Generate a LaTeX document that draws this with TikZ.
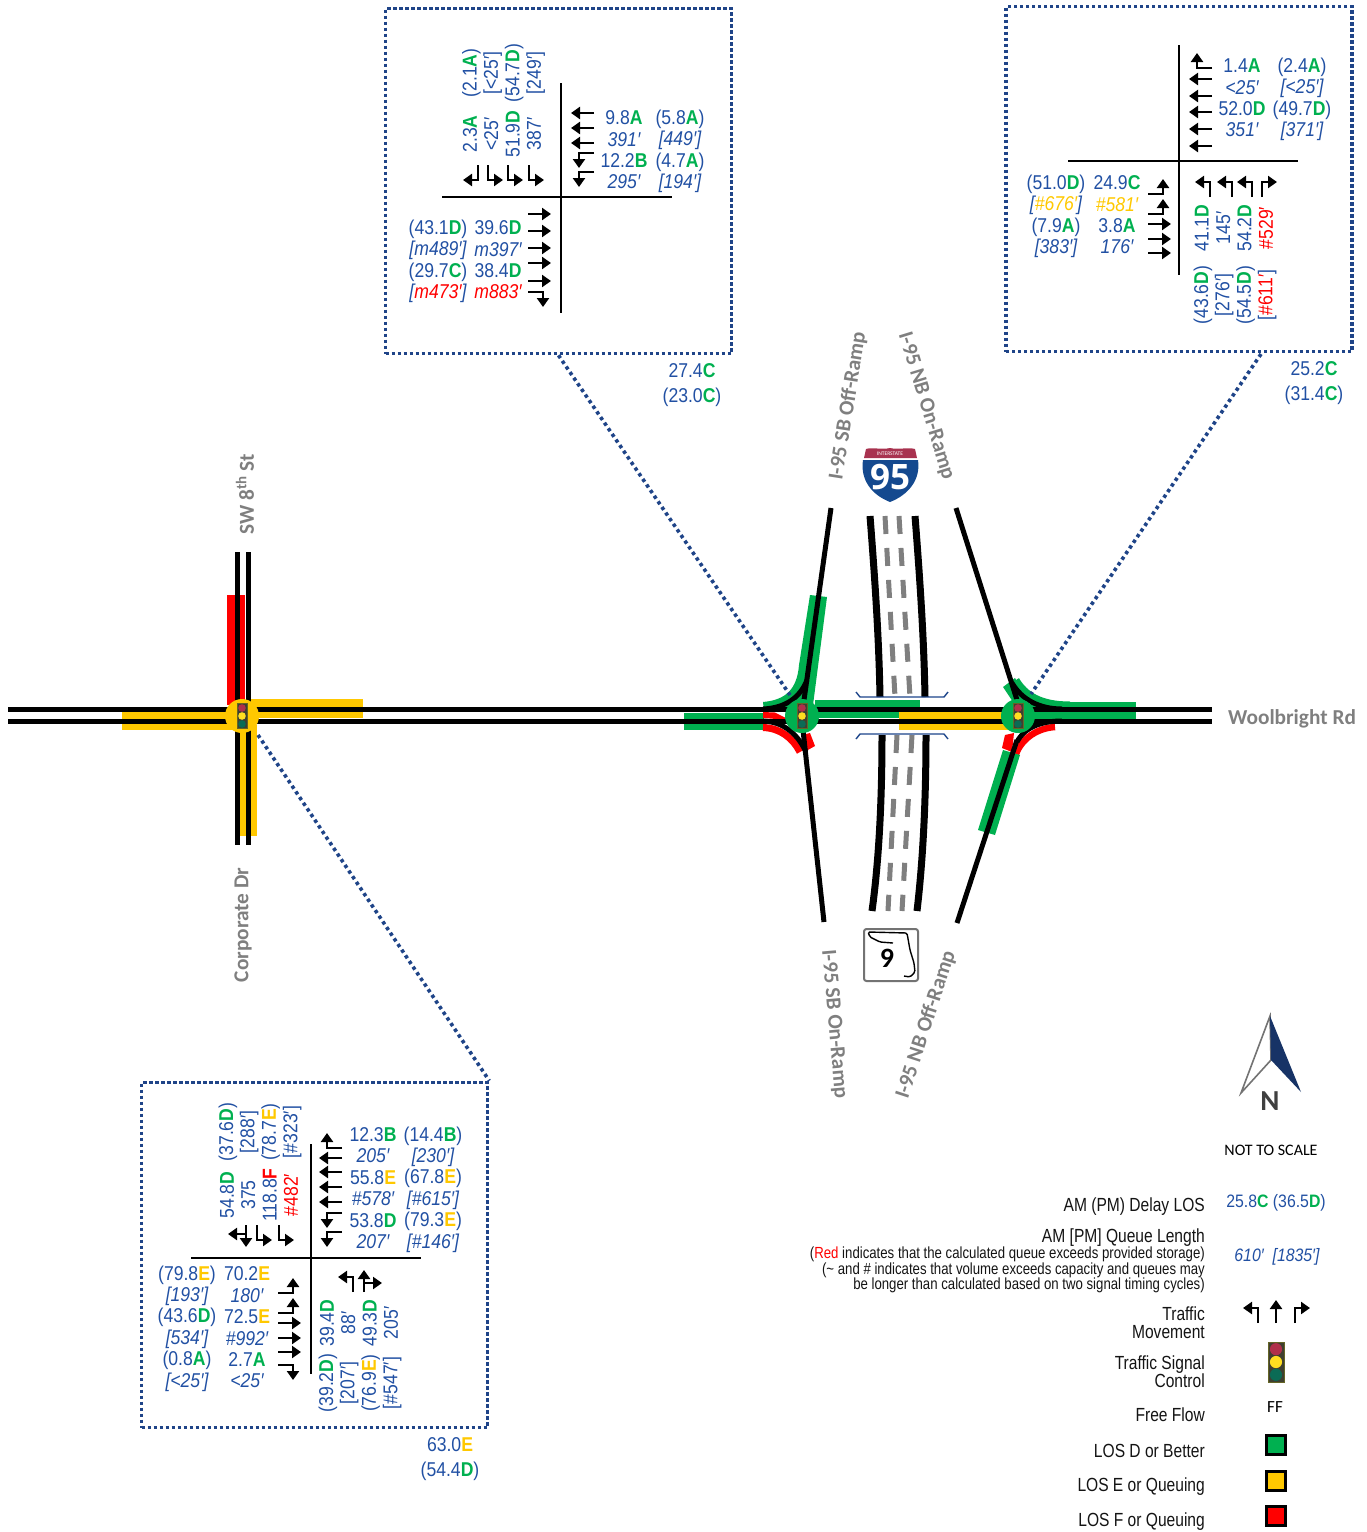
\documentclass[tikz,border=0pt]{standalone}
\usepackage{fontspec}
\usepackage{xcolor}
\usetikzlibrary{arrows.meta, positioning}
\setmainfont{Carlito}
\newfontfamily\numfont[FakeStretch=0.88]{Liberation Sans}
\newfontfamily\legfont[FakeStretch=0.82]{Liberation Sans}
\newfontfamily\shieldfont{Open Sans}
\definecolor{losblue}{HTML}{2150A3}
\definecolor{losgreen}{HTML}{00B050}
\definecolor{losyellow}{HTML}{FFC800}
\definecolor{losred}{HTML}{FF0000}
\definecolor{framblue}{HTML}{1F4488}
\definecolor{roadgray}{HTML}{7F7F7F}
\definecolor{shieldblue}{HTML}{14498F}
\definecolor{shieldred}{HTML}{A8324F}
\definecolor{lampred}{HTML}{B0304A}
\definecolor{lampyel}{HTML}{FFDE21}
\definecolor{lampgrn}{HTML}{0B6B55}
\definecolor{lampbox}{HTML}{3F3F30}
\newcommand{\gr}[1]{\textcolor{losgreen}{\bfseries #1}}
\newcommand{\ye}[1]{\textcolor{losyellow}{#1}}
\newcommand{\yb}[1]{\textcolor{losyellow}{\bfseries #1}}
\newcommand{\re}[1]{\textcolor{losred}{#1}}
\newcommand{\rb}[1]{\textcolor{losred}{\bfseries #1}}
\newcommand{\qu}[1]{{\itshape #1}}
\tikzset{
  mv/.style={line width=2.7pt, -{Triangle[width=12pt,length=9pt]}},
  thrumv/.pic={\draw[mv] (0,0) -- (0,-23);},
  lftmv/.pic={\draw[mv] (0,0) -- (0,-15) -- (-15,-15);},
  rgtmv/.pic={\draw[mv] (0,0) -- (0,-15) -- (15,-15);},
  thrrgtmv/.pic={\draw[mv] (0,0) -- (0,-22); \draw[mv] (0,-9) -- (18,-9);},
  signal/.pic={
    \draw[fill=lampbox, draw=lampbox!80!yellow, line width=.6pt] (-5,-12.5) rectangle (5,12.5);
    \fill[lampred] (0,-8) circle (3.8);
    \fill[lampyel] (0,0) circle (3.8);
    \fill[lampgrn] (0,8) circle (3.8);}
}
\begin{document}
\begin{tikzpicture}[
    x=1pt, y=-1pt,
    frame/.style={draw=framblue, line width=3.6pt, dash pattern=on 3.4pt off 2.6pt,
                  minimum width=346pt, minimum height=345pt, inner sep=0pt},
    leader/.style={draw=framblue, line width=3.6pt, dash pattern=on 3.4pt off 3.4pt},
    road/.style={line width=5pt},
    fwy/.style={line width=7pt},
    fwydash/.style={draw=roadgray, line width=5pt, dash pattern=on 18pt off 14pt},
    crossh/.style={line width=2.6pt},
    num/.style={text=losblue, inner sep=0pt, align=center,
                font=\numfont\fontsize{20}{21.4}\selectfont},
    vnum/.style={num, rotate=90},
    sum/.style={num, font=\numfont\fontsize{20}{25}\selectfont},
    key/.style={num, font=\numfont\fontsize{18}{20}\selectfont},
    roadlbl/.style={text=roadgray, inner sep=0pt, font=\bfseries\fontsize{21.3}{23}\selectfont},
    leg/.style={anchor=east, align=right, inner sep=0pt, text=black!92,
                font=\legfont\fontsize{19}{18}\selectfont},
    swatch/.style={draw=black, line width=3pt, minimum size=19pt, inner sep=0pt}
]
  \useasboundingbox (0,0) rectangle (1367,1532);

  % LOS bands under the roads
  \fill[losred] (227,595) rectangle (245,705);
  \fill[losyellow] (122,712) rectangle (232,730);
  \fill[losyellow] (250,699) rectangle (363,718);
  \fill[losyellow] (239,725) rectangle (257,836);
  \fill[losgreen] (684,712.5) rectangle (764,730);
  \fill[losgreen] (815,700) rectangle (920,718);
  \fill[losyellow] (899,712) rectangle (1008,730);
  \fill[losgreen] (1030,702) rectangle (1136,719);
  \fill[losgreen] (810,595) -- (827,597) -- (813,705) -- (764,712) -- (763,702) .. controls (785,700) and (797,690) .. (799,665) -- cycle;
  \fill[losred] (763,712) -- (775,712.5) -- (790,720) -- (763,718) -- cycle;
  \draw[losred, line width=7pt] (763,727.5) .. controls (780,728) and (793,738) .. (800,752);
  \fill[losred] (806,734) -- (810,733) -- (815,746) -- (806,751) -- cycle;
  \fill[losgreen] (1003,687) -- (1015,678) -- (1028,700) -- (1015,705) -- cycle;
  \draw[losgreen, line width=7pt] (1016,680) .. controls (1025,695) and (1040,705) .. (1070,705);
  \draw[losred, line width=6.5pt] (1016,754) .. controls (1022,738) and (1038,728) .. (1055,727);
  \fill[losred] (1005,735) -- (1014,733) -- (1012,752) -- (1002,748) -- cycle;
  \fill[losgreen] (1003,750) -- (1020,755) -- (995,835) -- (978,830) -- cycle;

  % roads
  \draw[road] (8,709) -- (1212,709);
  \draw[road] (8,721) -- (1212,721);
  \draw[road] (237,552) -- (237,845);
  \draw[road] (248,552) -- (248,845);
  \draw[road] (831,508) -- (804,700);
  \draw[road] (803,730) -- (824,922);
  \draw[road] (956,508) -- (1017,700);
  \draw[road] (957,923) -- (1017,740);
  \draw[road] (807,680) .. controls (800,698) and (785,708) .. (763,709);
  \draw[road] (806,752) .. controls (798,735) and (785,722) .. (763,721);
  \draw[road] (1012,683) .. controls (1022,700) and (1040,709) .. (1062,709);
  \draw[road] (1017,742) .. controls (1024,728) and (1040,721) .. (1062,721);

  % I-95 mainline and its bridge
  \draw[fwy] (870,516) .. controls (875,580) and (879,640) .. (880,697);
  \draw[fwy] (915,516) .. controls (920,580) and (924,640) .. (925,697);
  \draw[fwy] (882,735) .. controls (882,800) and (879,860) .. (872,911);
  \draw[fwy] (926,735) .. controls (926,800) and (923,860) .. (917,911);
  \draw[fwydash] (885,516) -- (895,697);
  \draw[fwydash] (899,516) -- (910,697);
  \draw[fwydash] (897,735) -- (888,911);
  \draw[fwydash] (912,735) -- (902,911);
  \draw[losblue!85!black, line width=1.4pt] (856,692) -- (860,697) -- (944,697) -- (948,692);
  \draw[losblue!85!black, line width=1.4pt] (856,739) -- (860,734) -- (944,734) -- (948,739);

  % leaders from the signals to the frames
  \node[frame] (frameA) at (558.5,181) {};
  \node[frame] (frameB) at (1179,179) {};
  \node[frame] (frameC) at (314.5,1255) {};
  \coordinate (sigS) at (258,735);
  \coordinate (sigW) at (790,695);
  \coordinate (sigE) at (1031,694);
  \coordinate (tapB) at (1261,354);
  \draw[leader] (frameA.south) -- (sigW);
  \draw[leader] (tapB) -- (sigE);
  \draw[leader] (sigS) -- (frameC.north east);

  % signals
  \fill[losyellow] (242,716) circle (17);
  \fill[losgreen] (802,716) circle (17);
  \fill[losgreen] (1018,716) circle (17);
  \pic at (242,716) {signal};
  \pic at (802,716) {signal};
  \pic at (1018,716) {signal};

  % route shields
  \fill[shieldblue] (863,460) -- (918,460) .. controls (921,480) and (908,495) .. (890,502) .. controls (872,495) and (860,480) .. (863,460) -- cycle;
  \fill[shieldred] (864,458) -- (917,458) -- (915,449) .. controls (908,447) and (898,450) .. (890,448) .. controls (882,450) and (872,447) .. (866,449) -- cycle;
  \node[inner sep=0pt, text=white, font=\fontsize{5.5}{5}\selectfont] (shieldtop) at (890,453.5) {INTERSTATE};
  \node[inner sep=0pt, text=white, font=\shieldfont\bfseries\fontsize{35}{35}\selectfont] (shieldnum) at (890,477) {95};
  \draw[black!55, line width=2pt, rounded corners=2.5pt] (864,929) rectangle (918,981);
  \draw[line width=1.4pt, rounded corners=1.5pt] (893,943) -- (880,942) -- (870,937) -- (868,932) -- (907,933) -- (910,950) -- (914,963) -- (915,972) -- (910,977) -- (904,976);
  \node[inner sep=0pt, font=\bfseries\fontsize{28}{28}\selectfont] (flnum) at (887,958) {9};

  % road names
  \node[roadlbl] (woolbright) at (1292,719) {Woolbright Rd};
  \node[roadlbl, rotate=90] (sw8th) at (245,494) {SW 8\textsuperscript{th} St};
  \node[roadlbl, rotate=90] (corporate) at (243,925) {Corporate Dr};
  \node[roadlbl, rotate=81] (sboff) at (848,406) {I-95 SB Off-Ramp};
  \node[roadlbl, rotate=-73] (nbon) at (926,406) {I-95 NB On-Ramp};
  \node[roadlbl, rotate=-85] (sbon) at (834,1024) {I-95 SB On-Ramp};
  \node[roadlbl, rotate=72] (nboff) at (926,1025) {I-95 NB Off-Ramp};

  % intersection at the top left
  \draw[crossh] (561,83) -- (561,313);
  \draw[crossh] (442,197) -- (672,197);
  \pic[rotate=90] at (594,113) {thrumv};
  \pic[rotate=90] at (594,128) {thrumv};
  \pic[rotate=90] at (594,143) {thrumv};
  \pic[rotate=90] at (594,153) {lftmv};
  \pic[rotate=90] at (594,172) {lftmv};
  \pic[rotate=180] at (478,165) {rgtmv};
  \pic[rotate=180] at (488,165) {lftmv};
  \pic[rotate=180] at (508,165) {lftmv};
  \pic[rotate=180] at (529,165) {lftmv};
  \pic[rotate=-90] at (528,214) {thrumv};
  \pic[rotate=-90] at (528,231) {thrumv};
  \pic[rotate=-90] at (528,248) {thrumv};
  \pic[rotate=-90] at (528,263) {thrumv};
  \pic[rotate=-90] at (528,281) {thrumv};
  \pic[rotate=-90] at (528,292) {rgtmv};
  \node[num] (aEam) at (624,150) {9.8\gr{A}\\\qu{391′}\\12.2\gr{B}\\\qu{295′}};
  \node[num] (aEpm) at (680,151.5) {(5.8\gr{A})\\\qu{[449′]}\\(4.7\gr{A})\\\qu{[194′]}};
  \node[num] (aWam) at (498,260) {39.6\gr{D}\\\qu{m397′}\\38.4\gr{D}\\\qu{\re{m883′}}};
  \node[num] (aWpm) at (438,261.5) {(43.1\gr{D})\\\qu{[m489′]}\\(29.7\gr{C})\\\qu{[\re{m473′}]}};
  \node[vnum] (aNam) at (502,134) {2.3\gr{A}\\<25′\\51.9\gr{D}\\387′};
  \node[vnum] (aNpm) at (503.5,73) {(2.1\gr{A})\\{[<25′]}\\(54.7\gr{D})\\{[249′]}};
  \node[sum] (aTot) at (692,385) {27.4\gr{C}\\(23.0\gr{C})};

  % intersection at the top right
  \draw[crossh] (1179,45) -- (1179,275);
  \draw[crossh] (1068,161) -- (1298,161);
  \pic[rotate=90] at (1212,68) {rgtmv};
  \pic[rotate=90] at (1212,79) {thrumv};
  \pic[rotate=90] at (1212,96) {thrumv};
  \pic[rotate=90] at (1212,112) {thrumv};
  \pic[rotate=90] at (1212,129) {thrumv};
  \pic[rotate=90] at (1212,146) {thrumv};
  \pic[rotate=-90] at (1148,194) {lftmv};
  \pic[rotate=-90] at (1148,214) {lftmv};
  \pic[rotate=-90] at (1148,224) {thrumv};
  \pic[rotate=-90] at (1148,239) {thrumv};
  \pic[rotate=-90] at (1148,253) {thrumv};
  \pic at (1210,197) {lftmv};
  \pic at (1232,197) {lftmv};
  \pic at (1252,197) {lftmv};
  \pic at (1262,197) {rgtmv};
  \node[num] (bEam) at (1242,98) {1.4\gr{A}\\\qu{<25′}\\52.0\gr{D}\\\qu{351′}};
  \node[num] (bEpm) at (1302,99.5) {(2.4\gr{A})\\\qu{[<25′]}\\(49.7\gr{D})\\\qu{[371′]}};
  \node[num] (bWam) at (1117,215) {24.9\gr{C}\\\qu{\ye{\#581′}}\\3.8\gr{A}\\\qu{176′}};
  \node[num] (bWpm) at (1056,216.5) {(51.0\gr{D})\\\qu{[\ye{\#676′}]}\\(7.9\gr{A})\\\qu{[383′]}};
  \node[vnum] (bSam) at (1234,228) {41.1\gr{D}\\145′\\54.2\gr{D}\\\re{\#529′}};
  \node[vnum] (bSpm) at (1235,295) {(43.6\gr{D})\\{[276′]}\\(54.5\gr{D})\\{[\re{\#611′}]}};
  \node[sum] (bTot) at (1314,383) {25.2\gr{C}\\(31.4\gr{C})};

  % intersection at the bottom left
  \draw[crossh] (311,1144) -- (311,1374);
  \draw[crossh] (191,1258) -- (421,1258);
  \pic[rotate=90] at (342,1148) {rgtmv};
  \pic[rotate=90] at (342,1158) {thrumv};
  \pic[rotate=90] at (342,1172) {thrumv};
  \pic[rotate=90] at (342,1187) {thrumv};
  \pic[rotate=90] at (342,1202) {thrumv};
  \pic[rotate=90] at (342,1213) {lftmv};
  \pic[rotate=90] at (342,1232) {lftmv};
  \pic[rotate=180] at (246,1225) {thrrgtmv};
  \pic[rotate=180] at (257,1225) {lftmv};
  \pic[rotate=180] at (279,1225) {lftmv};
  \pic[rotate=-90] at (278,1293) {lftmv};
  \pic[rotate=-90] at (278,1313) {lftmv};
  \pic[rotate=-90] at (278,1323) {thrumv};
  \pic[rotate=-90] at (278,1338) {thrumv};
  \pic[rotate=-90] at (278,1352) {thrumv};
  \pic[rotate=-90] at (278,1365) {rgtmv};
  \pic at (353,1292) {lftmv};
  \pic at (364,1292) {thrrgtmv};
  \node[num] (cEam) at (373,1188) {12.3\gr{B}\\\qu{205′}\\55.8\yb{E}\\\qu{\#578′}\\53.8\gr{D}\\\qu{207′}};
  \node[num] (cEpm) at (433,1189.5) {(14.4\gr{B})\\\qu{[230′]}\\(67.8\yb{E})\\\qu{[\#615′]}\\(79.3\yb{E})\\\qu{[\#146′]}};
  \node[num] (cWam) at (247,1327.5) {70.2\yb{E}\\\qu{180′}\\72.5\yb{E}\\\qu{\#992′}\\2.7\gr{A}\\\qu{<25′}};
  \node[num] (cWpm) at (187,1328.5) {(79.8\yb{E})\\\qu{[193′]}\\(43.6\gr{D})\\\qu{[534′]}\\(0.8\gr{A})\\\qu{[<25′]}};
  \node[vnum] (cNam) at (259,1195) {54.8\gr{D}\\375\\118.8\rb{F}\\\re{\#482′}};
  \node[vnum] (cNpm) at (260,1132) {(37.6\gr{D})\\{[288′]}\\(78.7\yb{E})\\{[\#323′]}};
  \node[vnum] (cSam) at (359,1323) {39.4\gr{D}\\88′\\49.3\gr{D}\\205′};
  \node[vnum] (cSpm) at (360,1383) {(39.2\gr{D})\\{[207′]}\\(76.9\yb{E})\\{[\#547′]}};
  \node[sum] (cTot) at (450,1459.5) {63.0\yb{E}\\(54.4\gr{D})};

  % north arrow
  \draw[draw=black!55, line width=1.6pt, fill=white] (1270,1016) -- (1241,1093) -- (1271,1060) -- cycle;
  \fill[framblue!75!black] (1270,1016) -- (1301,1092) -- (1271,1060) -- cycle;
  \node[inner sep=0pt, text=black!75, font=\bfseries\fontsize{29}{29}\selectfont] (north) at (1270,1101) {N};
  \node[inner sep=0pt, font=\fontsize{16}{16}\selectfont] (scale) at (1271,1150) {NOT TO SCALE};

  % legend
  \node[leg] (legDelay) at (1205,1206.5) {AM (PM) Delay LOS};
  \node[leg] (legQueue) at (1205,1237.5) {AM [PM] Queue Length};
  \node[leg, font=\legfont\fontsize{16.1}{15.5}\selectfont] (legNote) at (1205,1270)
       {(\re{Red} indicates that the calculated queue exceeds provided storage)\\
        (\textasciitilde{} and \# indicates that volume exceeds capacity and queues may\\
        be longer than calculated based on two signal timing cycles)};
  \node[leg] (legMove) at (1205,1323) {Traffic\\Movement};
  \node[leg] (legSig) at (1205,1372) {Traffic Signal\\Control};
  \node[leg] (legFree) at (1205,1414.5) {Free Flow};
  \node[leg] (legD) at (1205,1450.5) {LOS D or Better};
  \node[leg] (legE) at (1205,1487) {LOS E or Queuing};
  \node[leg] (legF) at (1205,1522) {LOS F or Queuing};

  \node[key] (keyDelay) at (1276,1203) {25.8\gr{C} (36.5\gr{D})};
  \node[key] (keyQueue) at (1277,1256.5) {\qu{610′ \ [1835′]}};
  \pic at (1258,1323) {lftmv};
  \pic at (1276,1323) {thrumv};
  \pic at (1295,1323) {rgtmv};
  \pic[scale=1.6] at (1276,1362) {signal};
  \node[inner sep=0pt, font=\fontsize{17}{17}\selectfont] (keyFree) at (1275,1407) {FF};
  \node[swatch, fill=losgreen] (keyD) at (1276,1445) {};
  \node[swatch, fill=losyellow] (keyE) at (1276,1481) {};
  \node[swatch, fill=losred] (keyF) at (1276,1516) {};
\end{tikzpicture}
\end{document}
